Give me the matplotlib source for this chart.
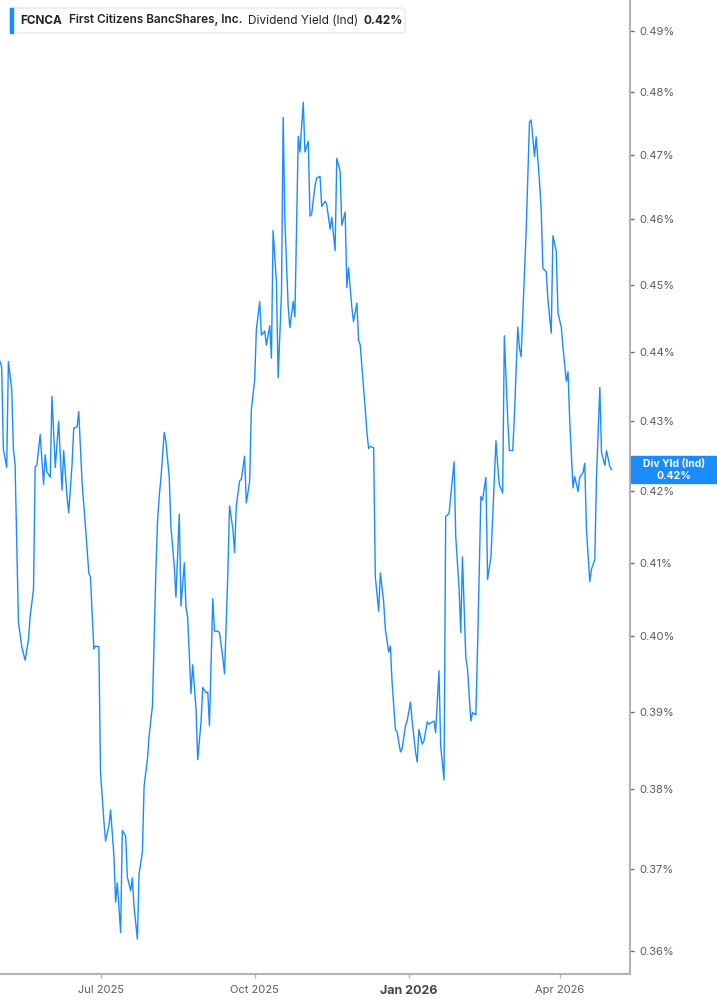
import pandas as pd
import numpy as np
import matplotlib.pyplot as plt
from matplotlib.patches import Rectangle, FancyBboxPatch
from matplotlib.ticker import FixedLocator, NullLocator, FuncFormatter

plt.rcParams['font.family'] = ['Inter', 'DejaVu Sans']

# Data (dividend yield, in %)
dates = [
    '2025-05-02', '2025-05-03', '2025-05-04', '2025-05-06', '2025-05-07', '2025-05-09', '2025-05-10', '2025-05-11',
    '2025-05-13', '2025-05-15', '2025-05-17', '2025-05-19', '2025-05-20', '2025-05-22', '2025-05-23', '2025-05-24',
    '2025-05-26', '2025-05-28', '2025-05-29', '2025-05-30', '2025-06-01', '2025-06-02', '2025-06-04', '2025-06-06',
    '2025-06-08', '2025-06-09', '2025-06-11', '2025-06-12', '2025-06-14', '2025-06-15', '2025-06-17', '2025-06-18',
    '2025-06-20', '2025-06-22', '2025-06-24', '2025-06-25', '2025-06-27', '2025-06-28', '2025-06-30', '2025-07-01',
    '2025-07-03', '2025-07-04', '2025-07-06', '2025-07-07', '2025-07-09', '2025-07-10', '2025-07-11', '2025-07-13',
    '2025-07-14', '2025-07-16', '2025-07-17', '2025-07-19', '2025-07-20', '2025-07-21', '2025-07-23', '2025-07-24',
    '2025-07-26', '2025-07-27', '2025-07-29', '2025-07-30', '2025-08-01', '2025-08-02', '2025-08-03', '2025-08-04',
    '2025-08-05', '2025-08-06', '2025-08-08', '2025-08-09', '2025-08-11', '2025-08-12', '2025-08-14', '2025-08-15',
    '2025-08-17', '2025-08-18', '2025-08-20', '2025-08-21', '2025-08-22', '2025-08-24', '2025-08-25', '2025-08-27',
    '2025-08-28', '2025-08-30', '2025-08-31', '2025-09-02', '2025-09-03', '2025-09-04', '2025-09-06', '2025-09-07',
    '2025-09-09', '2025-09-10', '2025-09-12', '2025-09-13', '2025-09-15', '2025-09-16', '2025-09-18', '2025-09-19',
    '2025-09-20', '2025-09-22', '2025-09-23', '2025-09-25', '2025-09-26', '2025-09-28', '2025-09-29', '2025-10-01',
    '2025-10-02', '2025-10-04', '2025-10-05', '2025-10-07', '2025-10-08', '2025-10-10', '2025-10-11', '2025-10-12',
    '2025-10-14', '2025-10-15', '2025-10-17', '2025-10-18', '2025-10-19', '2025-10-21', '2025-10-22', '2025-10-24',
    '2025-10-25', '2025-10-27', '2025-10-28', '2025-10-30', '2025-10-31', '2025-11-02', '2025-11-03', '2025-11-04',
    '2025-11-06', '2025-11-07', '2025-11-09', '2025-11-10', '2025-11-12', '2025-11-13', '2025-11-15', '2025-11-16',
    '2025-11-18', '2025-11-19', '2025-11-21', '2025-11-22', '2025-11-24', '2025-11-25', '2025-11-26', '2025-11-28',
    '2025-11-29', '2025-12-01', '2025-12-02', '2025-12-03', '2025-12-06', '2025-12-07', '2025-12-08', '2025-12-09',
    '2025-12-11', '2025-12-12', '2025-12-14', '2025-12-15', '2025-12-17', '2025-12-18', '2025-12-20', '2025-12-21',
    '2025-12-22', '2025-12-24', '2025-12-25', '2025-12-27', '2025-12-28', '2025-12-30', '2025-12-31', '2026-01-02',
    '2026-01-03', '2026-01-05', '2026-01-06', '2026-01-07', '2026-01-09', '2026-01-10', '2026-01-12', '2026-01-13',
    '2026-01-15', '2026-01-16', '2026-01-17', '2026-01-19', '2026-01-20', '2026-01-22', '2026-01-23', '2026-01-25',
    '2026-01-26', '2026-01-28', '2026-01-29', '2026-01-31', '2026-02-01', '2026-02-02', '2026-02-04', '2026-02-05',
    '2026-02-07', '2026-02-08', '2026-02-10', '2026-02-11', '2026-02-13', '2026-02-14', '2026-02-16', '2026-02-17',
    '2026-02-19', '2026-02-20', '2026-02-22', '2026-02-23', '2026-02-24', '2026-02-26', '2026-02-27', '2026-03-01',
    '2026-03-02', '2026-03-04', '2026-03-05', '2026-03-07', '2026-03-08', '2026-03-09', '2026-03-11', '2026-03-12',
    '2026-03-14', '2026-03-15', '2026-03-17', '2026-03-18', '2026-03-20', '2026-03-21', '2026-03-22', '2026-03-24',
    '2026-03-25', '2026-03-27', '2026-03-28', '2026-03-30', '2026-03-31', '2026-04-02', '2026-04-03', '2026-04-05',
    '2026-04-06', '2026-04-07', '2026-04-09', '2026-04-10', '2026-04-12', '2026-04-13', '2026-04-15', '2026-04-16',
    '2026-04-17', '2026-04-19', '2026-04-20', '2026-04-22', '2026-04-23', '2026-04-25', '2026-04-26', '2026-04-28',
    '2026-04-29', '2026-05-01', '2026-05-02',
]
yield_pct = [
    0.4386, 0.4378, 0.4259, 0.4233, 0.4386, 0.4345, 0.4259, 0.4237,
    0.4019, 0.3986, 0.3968, 0.3996, 0.4027, 0.4064, 0.4234, 0.4236,
    0.4280, 0.4209, 0.4251, 0.4227, 0.4219, 0.4335, 0.4233, 0.4299,
    0.4201, 0.4257, 0.4192, 0.4169, 0.4237, 0.4289, 0.4291, 0.4313,
    0.4211, 0.4150, 0.4086, 0.4080, 0.3983, 0.3987, 0.3986, 0.3822,
    0.3760, 0.3735, 0.3754, 0.3774, 0.3716, 0.3659, 0.3683, 0.3622,
    0.3748, 0.3741, 0.3690, 0.3673, 0.3689, 0.3654, 0.3614, 0.3694,
    0.3721, 0.3804, 0.3839, 0.3869, 0.3908, 0.3996, 0.4086, 0.4156,
    0.4192, 0.4216, 0.4283, 0.4270, 0.4220, 0.4150, 0.4095, 0.4053,
    0.4167, 0.4041, 0.4100, 0.4039, 0.4026, 0.3924, 0.3962, 0.3904,
    0.3838, 0.3887, 0.3932, 0.3925, 0.3926, 0.3882, 0.4051, 0.4007,
    0.4007, 0.4005, 0.3971, 0.3950, 0.4086, 0.4179, 0.4146, 0.4114,
    0.4178, 0.4214, 0.4216, 0.4249, 0.4183, 0.4213, 0.4316, 0.4359,
    0.4433, 0.4475, 0.4425, 0.4431, 0.4410, 0.4439, 0.4391, 0.4583,
    0.4503, 0.4362, 0.4488, 0.4760, 0.4600, 0.4467, 0.4436, 0.4475,
    0.4452, 0.4730, 0.4705, 0.4784, 0.4705, 0.4722, 0.4605, 0.4608,
    0.4652, 0.4664, 0.4667, 0.4620, 0.4628, 0.4623, 0.4585, 0.4603,
    0.4552, 0.4695, 0.4675, 0.4591, 0.4611, 0.4496, 0.4526, 0.4466,
    0.4445, 0.4473, 0.4418, 0.4410, 0.4316, 0.4283, 0.4260, 0.4263,
    0.4261, 0.4081, 0.4034, 0.4086, 0.4046, 0.4009, 0.3979, 0.3987,
    0.3939, 0.3877, 0.3874, 0.3848, 0.3852, 0.3882, 0.3888, 0.3913,
    0.3888, 0.3848, 0.3835, 0.3877, 0.3858, 0.3862, 0.3887, 0.3884,
    0.3887, 0.3888, 0.3873, 0.3954, 0.3856, 0.3812, 0.4164, 0.4168,
    0.4192, 0.4241, 0.4136, 0.4064, 0.4005, 0.4108, 0.3972, 0.3957,
    0.3888, 0.3899, 0.3896, 0.3983, 0.4192, 0.4187, 0.4219, 0.4077,
    0.4108, 0.4160, 0.4271, 0.4237, 0.4209, 0.4197, 0.4424, 0.4304,
    0.4257, 0.4257, 0.4306, 0.4437, 0.4406, 0.4393, 0.4518, 0.4580,
    0.4752, 0.4756, 0.4698, 0.4729, 0.4658, 0.4616, 0.4525, 0.4520,
    0.4478, 0.4428, 0.4575, 0.4551, 0.4458, 0.4437, 0.4407, 0.4357,
    0.4371, 0.4301, 0.4204, 0.4220, 0.4199, 0.4219, 0.4226, 0.4239,
    0.4146, 0.4074, 0.4091, 0.4104, 0.4220, 0.4348, 0.4254, 0.4236,
    0.4257, 0.4234, 0.4230,
]

y_ticks = [0.36, 0.37, 0.38, 0.39, 0.40, 0.41, 0.42, 0.43, 0.44, 0.45, 0.46, 0.47, 0.48, 0.49]
x_tick_dates = ['2025-07-01', '2025-10-01', '2026-01-01', '2026-04-01']
x_tick_labels = ['Jul 2025', 'Oct 2025', 'Jan 2026', 'Apr 2026']

ticker = 'FCNCA'
company = 'First Citizens BancShares, Inc.'
metric = 'Dividend Yield (Ind)'
metric_short = 'Div Yld (Ind)'

blue = '#1a8cff'
axis_gray = '#b3b3b3'
text_gray = '#5c5c5c'

df = pd.DataFrame({'date': pd.to_datetime(dates), 'yield': yield_pct})
last = df['yield'].iloc[-1]

W, H = 717, 1005
fig = plt.figure(figsize=(W / 100, H / 100), dpi=100)
ax = fig.add_axes([0, 31 / H, 630 / W, 974 / H])

ax.plot(df['date'], df['yield'], color=blue, lw=1.0)

ax.set_yscale('log')
ax.set_ylim(0.3572, 0.4951)
ax.set_xlim(pd.Timestamp('2025-05-02'), pd.Timestamp('2026-05-13'))

ax.yaxis.tick_right()
ax.yaxis.set_major_locator(FixedLocator(y_ticks))
ax.yaxis.set_minor_locator(NullLocator())
ax.yaxis.set_major_formatter(FuncFormatter(lambda v, p: f'{v:.2f}%'))
ax.tick_params(axis='y', length=3, width=1, color='#666666', pad=4,
               labelsize=8, labelcolor=text_gray)

ax.set_xticks(pd.to_datetime(x_tick_dates))
ax.set_xticklabels(x_tick_labels)
ax.tick_params(axis='x', length=3, width=1, color=axis_gray, pad=5,
               labelsize=8, labelcolor=text_gray)
for lbl in ax.get_xticklabels():
    if lbl.get_text().startswith('Jan'):
        lbl.set_fontweight('bold')
        lbl.set_fontsize(9)
        lbl.set_color('#444444')

for side in ['left', 'top']:
    ax.spines[side].set_visible(False)
for side in ['right', 'bottom']:
    ax.spines[side].set_color(axis_gray)
    ax.spines[side].set_linewidth(1.5)


def fx(x):
    return x / W


def fy(y):
    return 1 - y / H


# header legend box
fig.patches.append(FancyBboxPatch((fx(10), fy(33)), fx(395), 25 / H,
                                  boxstyle='round,pad=0,rounding_size=0.004',
                                  transform=fig.transFigure, facecolor='white',
                                  edgecolor='#e3e3e3', lw=0.8))
fig.patches.append(Rectangle((fx(10), fy(33)), fx(3), 25 / H,
                             transform=fig.transFigure, color=blue))
hy = fy(20.5)
fig.text(fx(20), hy, ticker, fontsize=8.5, fontweight='bold', color='#222222', va='center')
fig.text(fx(69), hy, company, fontsize=8.5, fontweight='semibold', color='#222222', va='center')
fig.text(fx(248), hy, metric, fontsize=8.5, color='#222222', va='center')
fig.text(fx(363), hy, f'{last:.2f}%', fontsize=8.5, fontweight='bold', color='#222222', va='center')

# last value tag on the right axis
fig.canvas.draw()
ly_px = ax.transData.transform((ax.get_xlim()[0], last))[1]
tag_h = 27
fig.patches.append(Rectangle((fx(631), (ly_px - tag_h / 2) / H), fx(86), tag_h / H,
                             transform=fig.transFigure, color=blue, zorder=5))
fig.text(fx(674), (ly_px + 6) / H, metric_short, fontsize=7.5, fontweight='bold',
         color='white', ha='center', va='center', zorder=6)
fig.text(fx(674), (ly_px - 6) / H, f'{last:.2f}%', fontsize=7.5, fontweight='bold',
         color='white', ha='center', va='center', zorder=6)

fig.savefig('out.png', dpi=100)
